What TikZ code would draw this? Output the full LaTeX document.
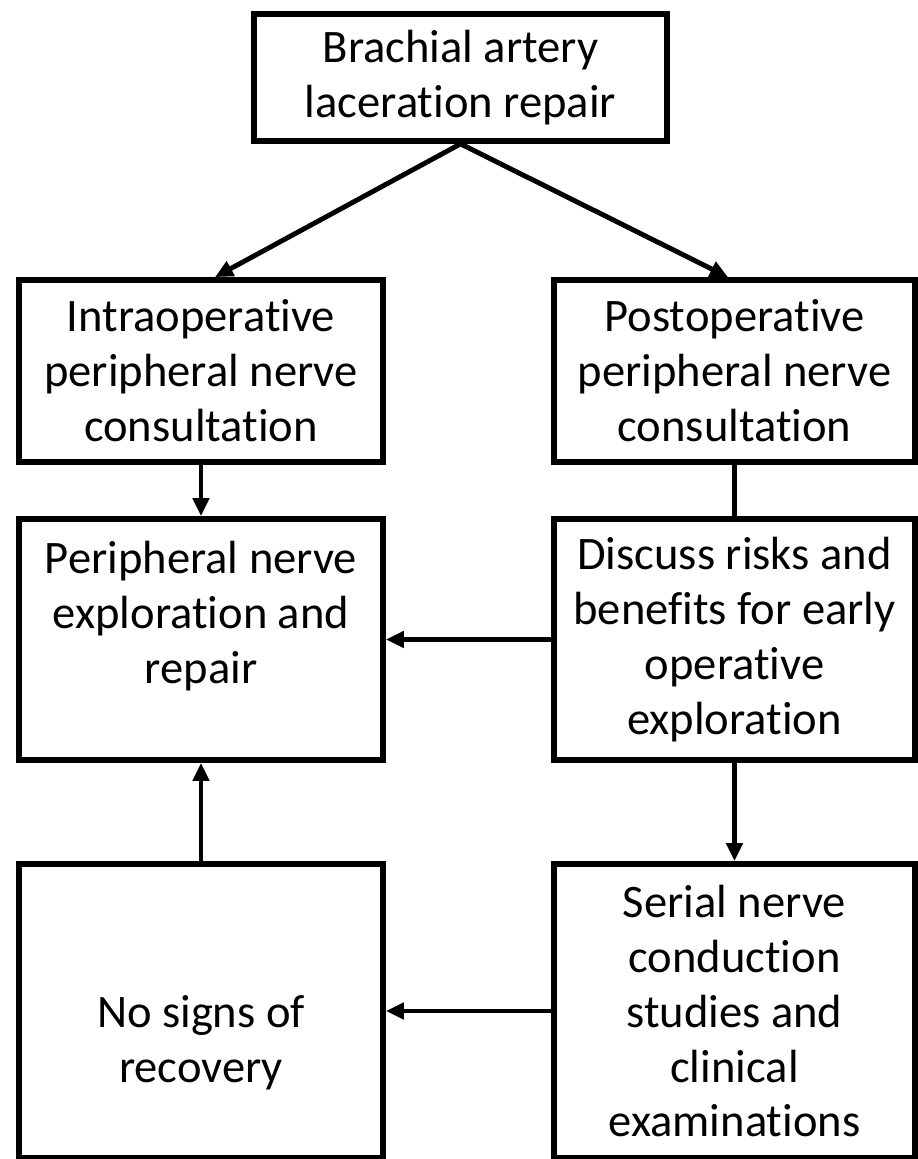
\documentclass[tikz,border=0pt]{standalone}
\usepackage{fontspec}
\setmainfont{Carlito}[Ligatures=NoCommon]
\usetikzlibrary{arrows.meta}

\begin{document}
\begin{tikzpicture}[x=0.02cm,y=-0.02cm,
  box/.style = {draw, line width=3.3pt, align=center, inner sep=0pt,
    font=\fontsize{26.5}{31.3}\selectfont},
  lbox/.style = {box, minimum width=7.28cm},
  rbox/.style = {box, minimum width=7.22cm},
  arr/.style = {line width=2.8pt, -{Triangle[length=0.36cm,width=0.32cm]}}]
\useasboundingbox (0,0) rectangle (917,1159);
\node[box, minimum width=8.26cm, minimum height=2.54cm] (top) at (460.5,77.5) {Brachial artery\\laceration repair};
\node[lbox, minimum height=3.64cm] (intra) at (201,371) {Intraoperative\\peripheral nerve\\consultation};
\node[rbox, minimum height=3.64cm] (post) at (734.5,371) {Postoperative\\peripheral nerve\\consultation};
\node[lbox, minimum height=4.82cm] (explore) at (201,639.5) {Peripheral nerve\\exploration and\\repair\\~};
\node[rbox, minimum height=4.82cm] (discuss) at (734.5,639.5) {Discuss risks and\\benefits for early\\operative\\exploration};
\node[lbox, minimum height=5.88cm] (norec) at (201,1011) {~\\[0.8cm]No signs of\\recovery};
\node[rbox, minimum height=5.88cm] (serial) at (734.5,1011) {Serial nerve\\conduction\\studies and\\clinical\\examinations};
\draw[arr] (top.south) -- ([xshift=0.28cm]intra.north);
\draw[arr] (top.south) -- ([xshift=-0.13cm]post.north);
\draw[arr] (intra) -- (explore);
\draw[line width=2.8pt] (post) -- (discuss);
\draw[arr] (discuss) -- (explore);
\draw[arr] (discuss) -- (serial);
\draw[arr] (serial) -- (norec);
\draw[arr] (norec) -- (explore);
\end{tikzpicture}
\end{document}
